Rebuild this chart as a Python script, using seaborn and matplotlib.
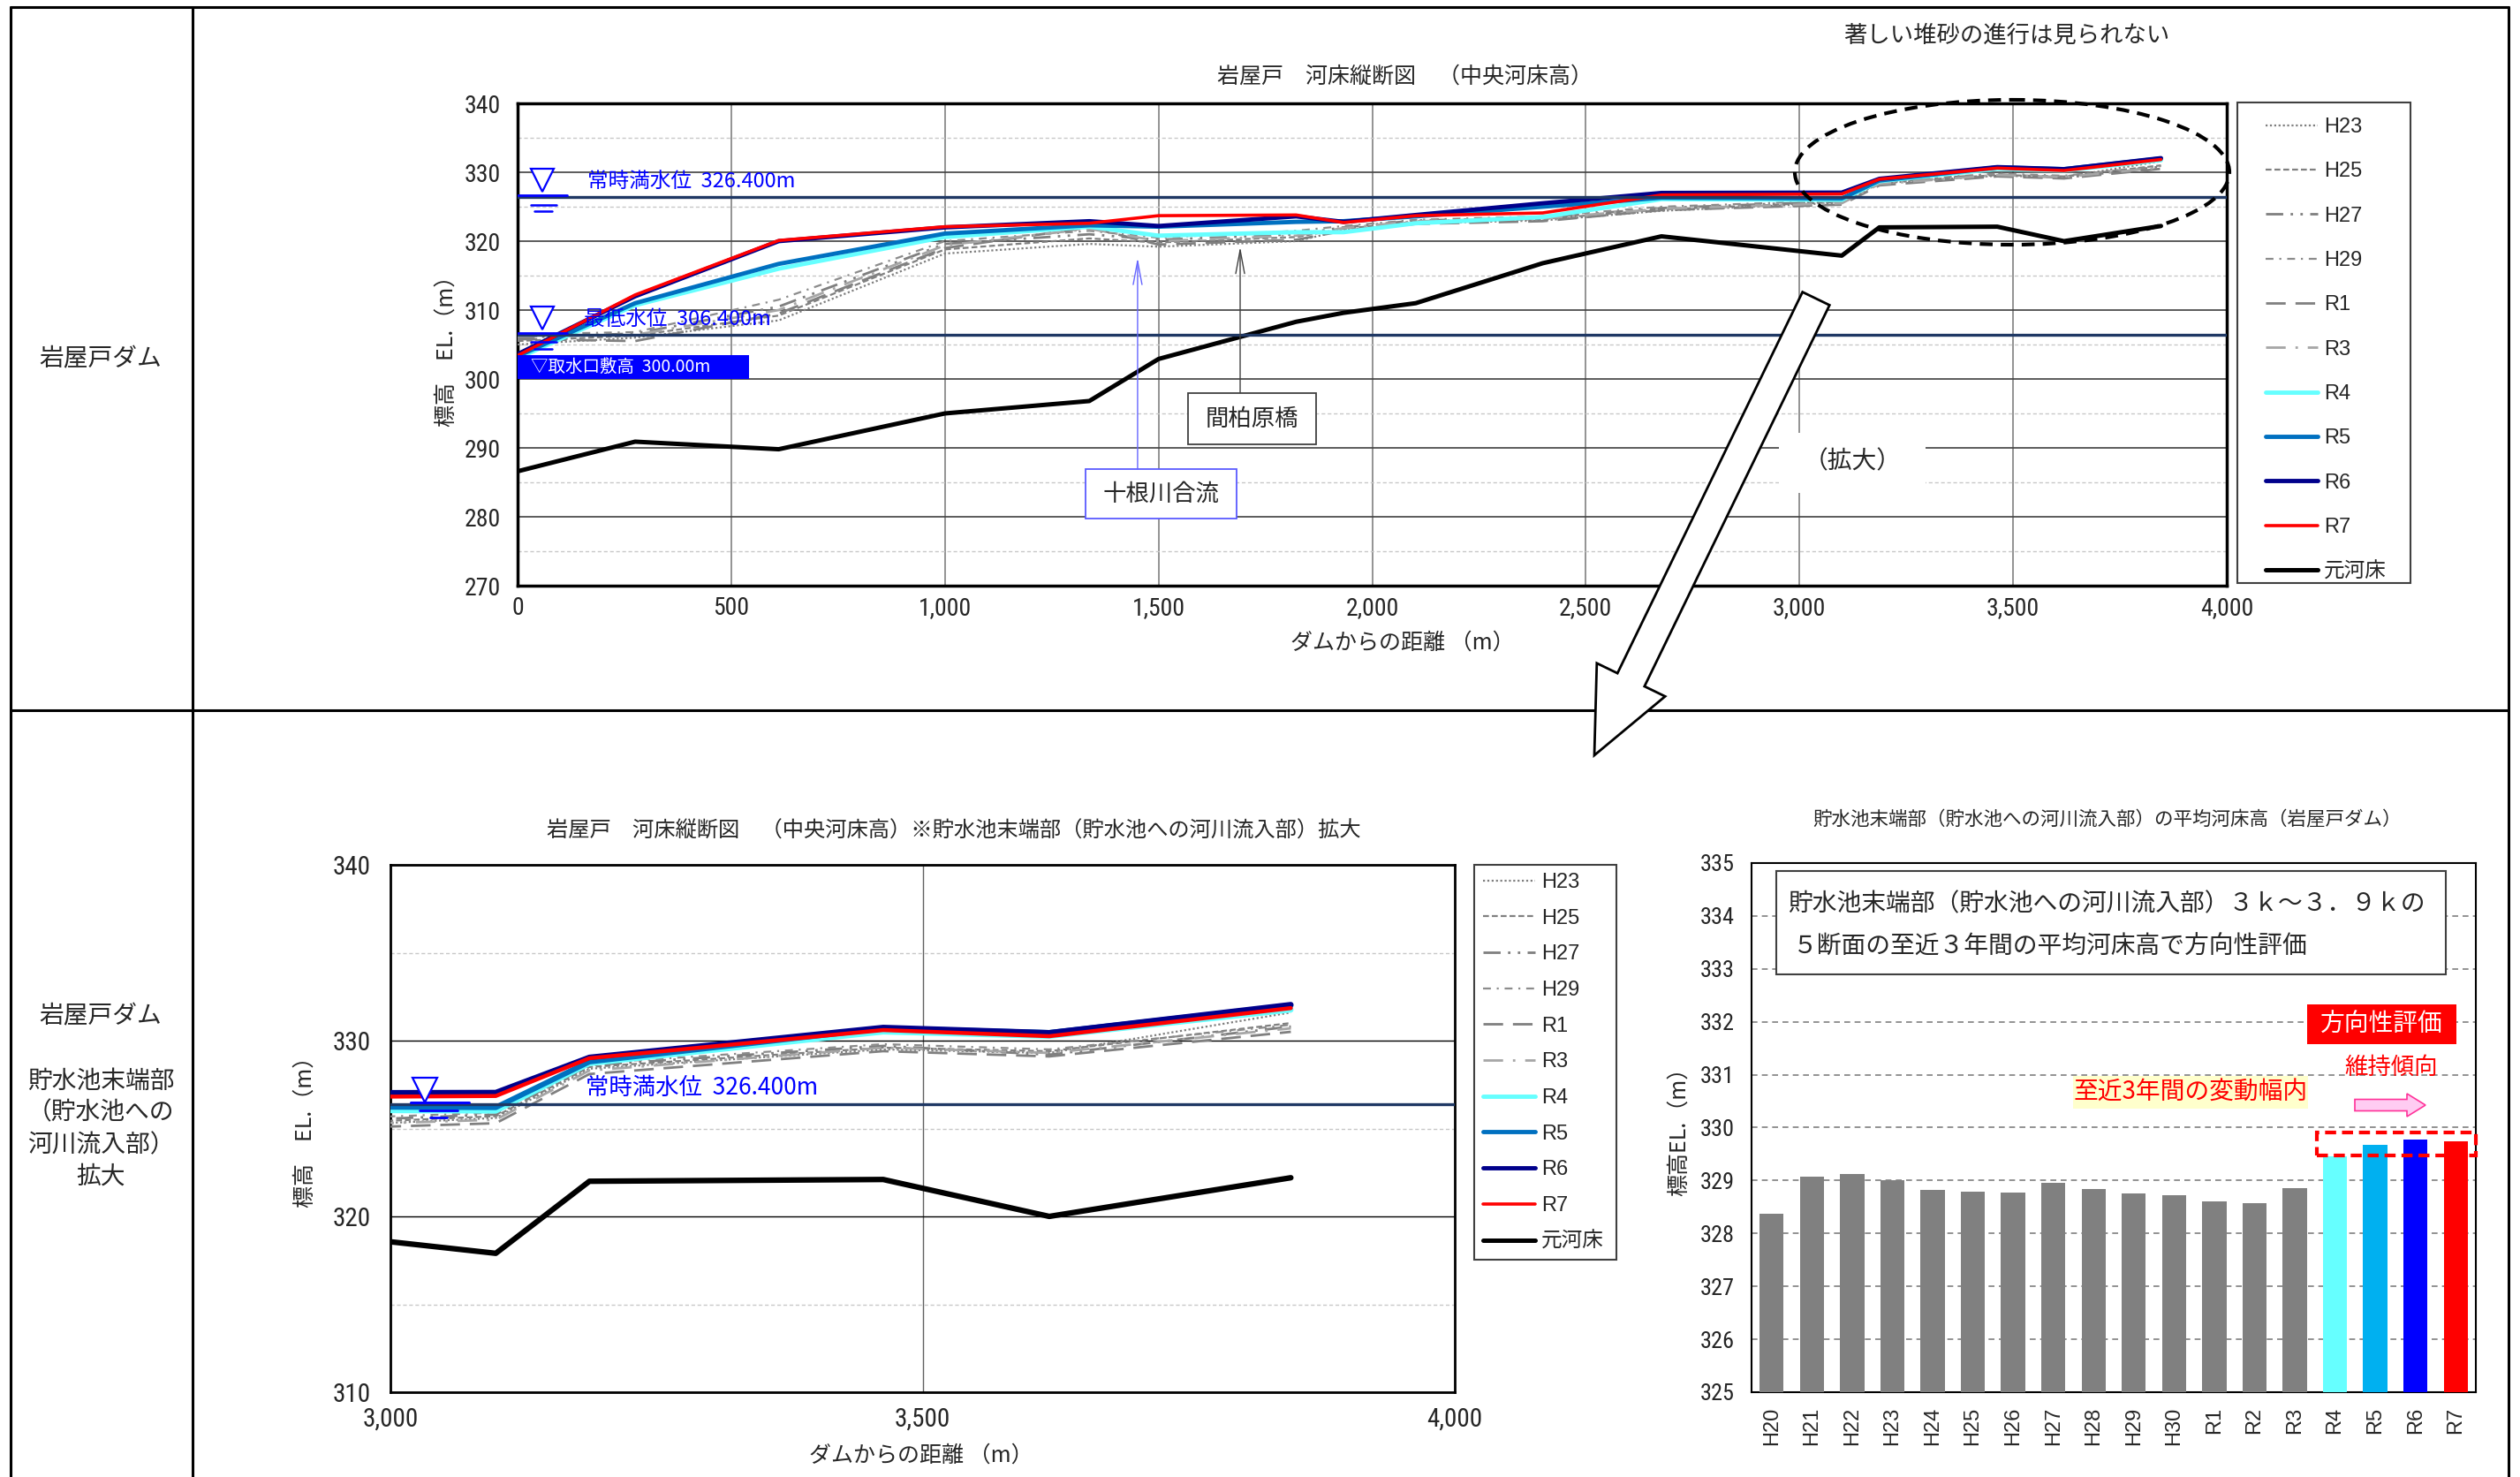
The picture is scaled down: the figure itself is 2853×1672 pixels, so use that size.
import matplotlib
matplotlib.use('Agg')
import matplotlib.pyplot as plt
import seaborn as sns
from matplotlib import font_manager
from matplotlib.patches import Rectangle, Ellipse, FancyArrow
from matplotlib.lines import Line2D
from matplotlib.transforms import Affine2D
from matplotlib.ticker import FuncFormatter, MultipleLocator

sns.set_theme(style='white')
plt.rcParams['font.family'] = ['Noto Sans CJK JP', 'DejaVu Sans']
plt.rcParams['axes.unicode_minus'] = False

_avail = {f.name for f in font_manager.fontManager.ttflist}


def pick(*names):
    for n in names:
        if n in _avail:
            return n
    return None


NARROW = pick('Liberation Sans Narrow', 'Roboto Condensed', 'Open Sans Condensed')
ARIAL = pick('Liberation Sans', 'Arimo', 'Roboto') or 'DejaVu Sans'
NUM_FONT = NARROW or 'Noto Sans CJK JP'
NUM_SCALE = 1.0 if NARROW else 0.85

# ---------------- data ----------------
distance = [0, 275, 611, 1000, 1338, 1500, 1822, 1933, 2102, 2399, 2677, 3099, 3187, 3463, 3619, 3846]

h23 = [305.0, 306.0, 308.5, 318.2, 319.6, 319.2, 320.0, 321.6, 322.6, 323.0, 324.4, 325.6, 328.4, 329.5, 329.3, 331.6]
h25 = [305.5, 306.3, 309.2, 318.8, 320.4, 319.8, 320.6, 321.8, 322.8, 323.2, 324.6, 325.7, 328.5, 329.6, 329.4, 331.0]
h27 = [306.0, 306.6, 310.5, 319.6, 321.0, 320.2, 321.0, 322.0, 323.0, 323.4, 324.8, 325.8, 328.6, 329.7, 329.2, 330.8]
h29 = [306.5, 306.8, 311.5, 320.0, 321.5, 320.5, 321.5, 322.2, 323.1, 323.6, 325.0, 325.9, 328.7, 329.8, 329.5, 330.9]
r1 = [305.8, 305.5, 309.5, 319.0, 322.0, 319.5, 320.2, 321.5, 322.5, 322.9, 324.5, 325.3, 328.1, 329.4, 329.1, 330.5]
r3 = [306.2, 306.4, 310.0, 319.4, 321.8, 320.0, 320.8, 321.9, 322.9, 323.3, 324.7, 325.5, 328.3, 329.6, 329.3, 330.7]
r4 = [303.0, 310.7, 316.0, 320.6, 322.1, 320.8, 321.3, 321.3, 322.6, 323.5, 326.1, 326.0, 328.7, 330.5, 330.25, 331.75]
r5 = [303.3, 311.0, 316.7, 321.1, 322.3, 322.1, 322.8, 322.9, 323.6, 325.0, 326.3, 326.2, 328.8, 330.7, 330.45, 332.0]
r6 = [303.6, 312.0, 320.0, 322.0, 322.9, 322.2, 323.6, 322.8, 323.8, 325.5, 327.0, 327.05, 329.05, 330.75, 330.45, 332.05]
r7 = [303.4, 312.2, 320.1, 322.1, 322.6, 323.7, 323.8, 322.7, 323.7, 324.1, 326.7, 326.85, 329.0, 330.6, 330.25, 331.85]
original_bed = [286.6, 290.9, 289.8, 295.0, 296.8, 302.9, 308.3, 309.6, 311.0, 316.8, 320.7, 317.9, 322.0, 322.1, 320.0, 322.2]

series_names = ['H23', 'H25', 'H27', 'H29', 'R1', 'R3', 'R4', 'R5', 'R6', 'R7', '元河床']
series_values = [h23, h25, h27, h29, r1, r3, r4, r5, r6, r7, original_bed]

full_water_level = 326.4
low_water_level = 306.4
intake_level = 300.0

bar_years = ['H20', 'H21', 'H22', 'H23', 'H24', 'H25', 'H26', 'H27', 'H28', 'H29', 'H30',
             'R1', 'R2', 'R3', 'R4', 'R5', 'R6', 'R7']
bar_values = [328.37, 329.07, 329.13, 329.01, 328.83, 328.79, 328.78, 328.95, 328.84, 328.75,
              328.73, 328.61, 328.57, 328.86, 329.45, 329.67, 329.77, 329.74]

# ---------------- styles ----------------
line_styles = {
    'H23': ('#7F7F7F', 1.6, (0, (1, 1.2))),
    'H25': ('#808080', 1.6, (0, (3, 1.5))),
    'H27': ('#7F7F7F', 2.0, (0, (7, 3, 1, 3, 1, 3))),
    'H29': ('#8C8C8C', 1.6, (0, (4, 3, 1, 3))),
    'R1': ('#808080', 2.0, (0, (8, 4))),
    'R3': ('#A6A6A6', 2.0, (0, (8, 4, 1, 4))),
    'R4': ('#66FFFF', 3.5, '-'),
    'R5': ('#0070C0', 3.5, '-'),
    'R6': ('#00008B', 3.5, '-'),
    'R7': ('#FF0000', 2.6, '-'),
    '元河床': ('#000000', 3.6, '-'),
}
bar_colors = ['#808080'] * 14 + ['#66FFFF', '#00B0F0', '#0000FF', '#FF0000']
WL_COLOR = '#1F3864'
BLUE = '#0000FF'

W, H = 2853, 1672
fig = plt.figure(figsize=(W / 100, H / 100), dpi=100)
fig.patch.set_facecolor('white')
px = Affine2D().scale(1 / W, -1 / H).translate(0, 1) + fig.transFigure


def fax(l, t, r, b):
    return fig.add_axes([l / W, 1 - b / H, (r - l) / W, (b - t) / H])


def ftext(x, y, s, **kw):
    kw.setdefault('ha', 'center')
    kw.setdefault('va', 'center')
    return fig.text(x / W, 1 - y / H, s, **kw)


def num_ticks(ax, axis, size, family=None):
    labels = ax.get_yticklabels() if axis == 'y' else ax.get_xticklabels()
    for lbl in labels:
        lbl.set_fontfamily(family or NUM_FONT)
        lbl.set_fontsize(size * (NUM_SCALE if family is None else 1.0))


comma = FuncFormatter(lambda v, p: f'{int(v):,}')

# ---------------- table frame ----------------
for (x0, y0, x1, y1) in [(12, 8, 2840, 8), (12, 8, 12, 1672), (2840, 8, 2840, 1672),
                         (218, 8, 218, 1672), (12, 804, 2840, 804)]:
    fig.add_artist(Line2D([x0, x1], [y0, y1], transform=px, color='black', lw=2.2))

ftext(114, 406, '岩屋戸ダム', fontsize=20)
for yy, s in [(1150, '岩屋戸ダム'), (1224, '貯水池末端部'), (1259, '（貯水池への'),
              (1296, '河川流入部）'), (1332, '拡大')]:
    ftext(114, yy, s, fontsize=20)


def draw_profile(ax, lw_scale=1.0):
    for name, vals in zip(series_names, series_values):
        c, lw, ls = line_styles[name]
        scale = lw_scale if ls == '-' else 1.0
        sns.lineplot(x=distance, y=vals, ax=ax, color=c, linewidth=lw * scale,
                     linestyle=ls, legend=False, zorder=4)


def style_axes(ax, lw=2.5):
    for sp in ax.spines.values():
        sp.set_visible(True)
        sp.set_color('black')
        sp.set_linewidth(lw)
    ax.set_facecolor('white')


def water_symbol(ax, x, level, tri_dy, line_pts, size):
    ax.plot([x], [level + tri_dy], marker='v', markersize=size, mfc='white', mec=BLUE,
            mew=1.6, ls='none', zorder=7, clip_on=False)
    for (xa, xb, yy, lw) in line_pts:
        ax.plot([xa, xb], [yy, yy], color=BLUE, lw=lw, zorder=7)


# ---------------- top profile ----------------
ax1 = fax(586, 117, 2521, 663)
draw_profile(ax1)
ax1.axhline(full_water_level, color=WL_COLOR, lw=2.4, zorder=5)
ax1.axhline(low_water_level, color=WL_COLOR, lw=2.4, zorder=5)
ax1.set_xlim(0, 4000)
ax1.set_ylim(270, 340)
ax1.set_xticks(range(0, 4001, 500))
ax1.set_yticks(range(270, 341, 10))
ax1.yaxis.set_minor_locator(MultipleLocator(5))
ax1.xaxis.set_major_formatter(comma)
ax1.grid(which='major', axis='y', color='#404040', lw=1.2)
ax1.grid(which='major', axis='x', color='#808080', lw=1.2)
ax1.grid(which='minor', axis='y', color='#C8C8C8', lw=1.0, linestyle=(0, (3, 2)))
ax1.set_axisbelow(True)
ax1.tick_params(axis='both', which='both', length=0)
ax1.tick_params(axis='y', pad=14)
ax1.tick_params(axis='x', pad=9)
num_ticks(ax1, 'y', 20)
num_ticks(ax1, 'x', 20)
ax1.set_xlabel('')
ax1.set_ylabel('')
style_axes(ax1)

water_symbol(ax1, 58, full_water_level, 2.4,
             [(0, 116, full_water_level + 0.25, 2.0), (30, 90, full_water_level - 1.1, 1.8),
              (40, 80, full_water_level - 2.1, 1.8)], 19)
water_symbol(ax1, 58, low_water_level, 2.4,
             [(0, 116, low_water_level + 0.25, 2.0), (30, 90, low_water_level - 1.0, 1.8),
              (40, 80, low_water_level - 2.0, 1.8)], 19)
ax1.text(163, 328.6, '常時満水位  326.400m', color=BLUE, fontsize=17, va='center', zorder=8)
ax1.text(156, 308.6, '最低水位  306.400m', color=BLUE, fontsize=17, va='center', zorder=8)
ax1.add_patch(Rectangle((0, intake_level), 541, 3.4, fc=BLUE, ec='none', zorder=6))
ax1.text(30, intake_level + 1.7, '▽取水口敷高  300.00m', color='white', fontsize=14,
         va='center', zorder=7)

ax1.add_patch(Rectangle((1330, 279.8), 352, 7.1, fc='white', ec='#5B5BFF', lw=1.3, zorder=6))
ax1.text(1506, 283.3, '十根川合流', ha='center', va='center', fontsize=19, zorder=7)
ax1.annotate('', xy=(1451, 317.6), xytext=(1451, 286.9), zorder=6,
             arrowprops=dict(arrowstyle='->,head_length=1.6,head_width=0.3', color='#6666FF',
                             lw=1.0, shrinkA=0, shrinkB=0))
ax1.add_patch(Rectangle((1569, 290.5), 300, 7.5, fc='white', ec='#404040', lw=1.3, zorder=6))
ax1.text(1719, 294.2, '間柏原橋', ha='center', va='center', fontsize=19, zorder=7)
ax1.annotate('', xy=(1691, 319.2), xytext=(1691, 298.0), zorder=6,
             arrowprops=dict(arrowstyle='->,head_length=1.6,head_width=0.3', color='#404040',
                             lw=1.0, shrinkA=0, shrinkB=0))

ftext(1590, 87, '岩屋戸　河床縦断図　（中央河床高）', fontsize=18)
ftext(2272, 40, '著しい堆砂の進行は見られない', fontsize=19)
ftext(1588, 728, 'ダムからの距離 （m）', fontsize=18)
ftext(506, 391, '標高　EL.（m）', fontsize=18, rotation=90)


def legend_handles():
    hs = []
    for name in series_names:
        c, lw, ls = line_styles[name]
        hs.append(Line2D([], [], color=c, lw=lw, ls=ls))
    return hs


leg_font = {'family': [ARIAL, 'Noto Sans CJK JP'], 'size': 17}
fig.add_artist(Rectangle((2533, 116), 196, 544, transform=px, fc='white', ec='#404040', lw=1.5))
fig.legend(legend_handles(), series_names, loc='upper left',
           bbox_to_anchor=(2565 / W, 1 - 133 / H), bbox_transform=fig.transFigure,
           frameon=False, prop=leg_font, handlelength=2.5, handletextpad=0.3,
           labelspacing=1.2, borderpad=0, borderaxespad=0)

# dashed ellipse + big arrow
fig.add_artist(Ellipse((2278, 195), 492, 164, transform=px, fill=False, ec='black', lw=3,
                       ls=(0, (3.5, 2.2)), zorder=5))
fig.add_artist(FancyArrow(2056, 338, -251, 517, width=34, head_width=86, head_length=95,
                          length_includes_head=True, transform=px, fc='white', ec='black',
                          lw=2, zorder=5))
fig.add_artist(Rectangle((2014, 490), 166, 68, transform=px, fc='white', ec='none', zorder=6))
ftext(2097, 522, '（拡大）', fontsize=20, zorder=7)

# ---------------- bottom-left enlarged profile ----------------
ax2 = fax(442, 979, 1647, 1576)
draw_profile(ax2, lw_scale=1.25)
ax2.axhline(full_water_level, color=WL_COLOR, lw=2.4, zorder=5)
ax2.set_xlim(3000, 4000)
ax2.set_ylim(310, 340)
ax2.set_xticks([3000, 3500, 4000])
ax2.set_yticks([310, 320, 330, 340])
ax2.yaxis.set_minor_locator(MultipleLocator(5))
ax2.xaxis.set_major_formatter(comma)
ax2.grid(which='major', axis='y', color='black', lw=1.0)
ax2.grid(which='major', axis='x', color='#606060', lw=1.0)
ax2.grid(which='minor', axis='y', color='#C8C8C8', lw=1.0, linestyle=(0, (3, 2)))
ax2.set_axisbelow(True)
ax2.tick_params(axis='both', which='both', length=0)
ax2.tick_params(axis='y', pad=16)
ax2.tick_params(axis='x', pad=12)
num_ticks(ax2, 'y', 21)
num_ticks(ax2, 'x', 21)
ax2.set_xlabel('')
ax2.set_ylabel('')
style_axes(ax2, lw=2.0)
water_symbol(ax2, 3032, full_water_level, 0.8,
             [(3019, 3074, full_water_level + 0.1, 2.2), (3027, 3063, full_water_level - 0.35, 2.0),
              (3037, 3053, full_water_level - 0.75, 2.0)], 20)
ax2.text(3183, 327.3, '常時満水位  326.400m', color=BLUE, fontsize=19, va='center', zorder=8)

ftext(1080, 941, '岩屋戸　河床縦断図　（中央河床高）※貯水池末端部（貯水池への河川流入部）拡大', fontsize=17.5)
ftext(1043, 1648, 'ダムからの距離 （m）', fontsize=18)
ftext(346, 1275, '標高　EL.（m）', fontsize=18, rotation=90)

fig.add_artist(Rectangle((1669, 979), 161, 447, transform=px, fc='white', ec='#404040', lw=1.5))
fig.legend(legend_handles(), series_names, loc='upper left',
           bbox_to_anchor=(1679 / W, 1 - 988 / H), bbox_transform=fig.transFigure,
           frameon=False, prop=leg_font, handlelength=2.5, handletextpad=0.3,
           labelspacing=0.79, borderpad=0, borderaxespad=0)

# ---------------- bottom-right bar chart ----------------
ax3 = fax(1983, 977, 2803, 1576)
sns.barplot(x=bar_years, y=bar_values, hue=bar_years, palette=bar_colors, legend=False,
            ax=ax3, width=0.6, saturation=1, edgecolor='none', zorder=3)
ax3.set_ylim(325, 335)
ax3.set_xlim(-0.5, 17.5)
ax3.set_yticks(range(325, 336))
ax3.yaxis.grid(True, color='#808080', lw=1.2, linestyle=(0, (4, 3)))
ax3.xaxis.grid(False)
ax3.set_axisbelow(True)
ax3.tick_params(axis='both', length=0)
ax3.tick_params(axis='y', pad=14)
ax3.tick_params(axis='x', pad=12, labelrotation=90)
num_ticks(ax3, 'y', 19)
num_ticks(ax3, 'x', 17, family=ARIAL)
ax3.set_xlabel('')
ax3.set_ylabel('')
style_axes(ax3, lw=1.5)
ax3.add_patch(Rectangle((13.55, 329.47), 3.95, 0.43, fill=False, ec='#FF0000', lw=3,
                        ls=(0, (3, 1.6)), zorder=6, clip_on=False))

ftext(2386, 928, '貯水池末端部（貯水池への河川流入部）の平均河床高（岩屋戸ダム）', fontsize=15.5)
ftext(1901, 1275, '標高EL.（m）', fontsize=18, rotation=90)
fig.add_artist(Rectangle((2011, 986), 758, 117, transform=px, fc='white', ec='#404040', lw=1.5, zorder=3))
ftext(2024, 1023, '貯水池末端部（貯水池への河川流入部）３ｋ～３．９ｋの', fontsize=20, ha='left', zorder=4)
ftext(2030, 1072, '５断面の至近３年間の平均河床高で方向性評価', fontsize=20, ha='left', zorder=4)
fig.add_artist(Rectangle((2612, 1137), 169, 45, transform=px, fc='#FF0000', ec='none', zorder=3))
ftext(2696, 1160, '方向性評価', fontsize=20, color='white', zorder=4)
ftext(2707, 1208, '維持傾向', fontsize=19, color='#FF0000', zorder=4)
fig.add_artist(Rectangle((2347, 1218), 266, 37, transform=px, fc='#FFFFCC', ec='none', zorder=3))
ftext(2480, 1237, '至近3年間の変動幅内', fontsize=20, color='#FF0000', zorder=4)
fig.add_artist(FancyArrow(2666, 1251, 80, 0, width=13, head_width=26, head_length=21,
                          length_includes_head=True, transform=px, fc='#FFCCF2', ec='#FF3399',
                          lw=1.2, zorder=4))

fig.savefig('out.png', dpi=100, facecolor='white')
